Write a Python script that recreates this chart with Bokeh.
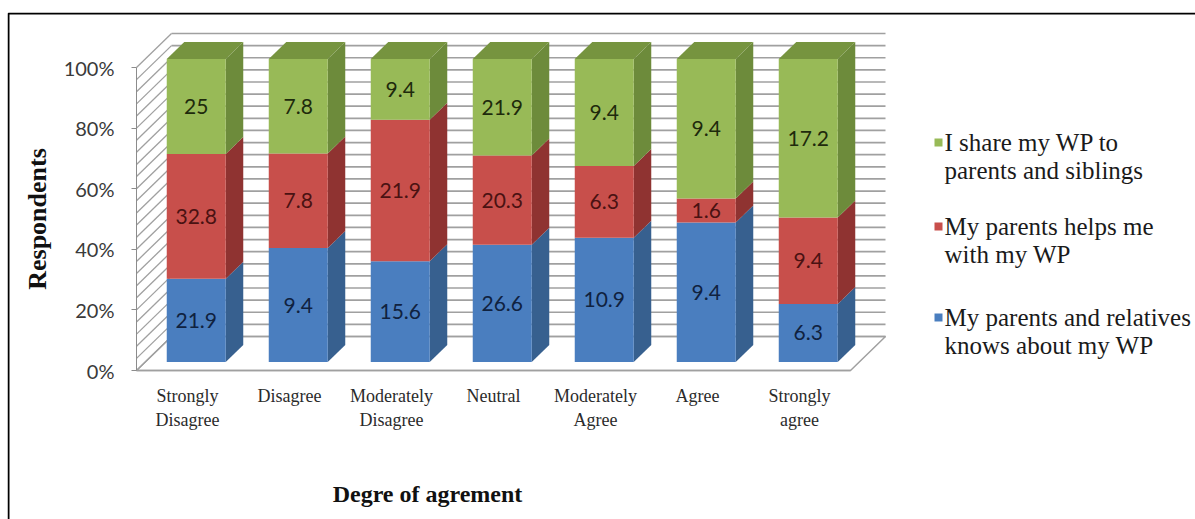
from bokeh.plotting import figure
from bokeh.models import Range1d, LinearAxis, FixedTicker, PrintfTickFormatter, Label
from bokeh.core.properties import value
from bokeh.embed import file_html
from bokeh.resources import INLINE

# ---- data -------------------------------------------------------------
categories = ["Strongly Disagree", "Disagree", "Moderately Disagree", "Neutral",
              "Moderately Agree", "Agree", "Strongly agree"]
category_labels = ["Strongly\nDisagree", "Disagree", "Moderately\nDisagree", "Neutral",
                   "Moderately\nAgree", "Agree", "Strongly\nagree"]
knows_about_wp = [21.9, 9.4, 15.6, 26.6, 10.9, 9.4, 6.3]
helps_with_wp = [32.8, 7.8, 21.9, 20.3, 6.3, 1.6, 9.4]
shares_wp = [25, 7.8, 9.4, 21.9, 9.4, 9.4, 17.2]
series_names = [["My parents and relatives", "knows about my WP"],
                ["My parents helps me", "with my WP"],
                ["I share my WP to", "parents and siblings"]]
y_ticks = [0, 20, 40, 60, 80, 100]
grid_steps = list(range(0, 101, 4))

# ---- styling ------------------------------------------------------------
front_colors = ["#4a7ebf", "#c84f4b", "#98ba57"]
side_colors = ["#37608f", "#8f3331", "#6d8b3b"]
top_colors = ["#3f6ca3", "#a8403d", "#76943f"]
label_colors = ["#10223f", "#4a1212", "#1e2a0c"]
grid_color = "#a0a0a0"
SERIF = "Liberation Serif"

# ---- screen layout (pixels) -------------------------------------------
PLOT_W, PLOT_H = 1195, 519
FRAME_LEFT, FRAME_TOP, FRAME_RIGHT, FRAME_BOTTOM = 7, 12, 1195, 519
CAT_ORIGIN_PX = 187      # screen x of the first category on the front plane
CAT_STEP_PX = 102        # distance between categories
ZERO_PX, FULL_PX = 370, 67
PX_PER_PCT = (ZERO_PX - FULL_PX) / 100
DEPTH_PX_X, DEPTH_PX_Y = 35, 34
BAR_PX = 59


def ux(px):
    return (px - CAT_ORIGIN_PX) / CAT_STEP_PX


def uy(px):
    return (ZERO_PX - px) / PX_PER_PCT


def dx(px):
    return px / CAT_STEP_PX


def dy(px):
    return px / PX_PER_PCT


n = len(categories)
WALL_L, WALL_R = -0.5, n - 0.5
DEP_X, DEP_Y = dx(DEPTH_PX_X), dy(DEPTH_PX_Y)
FRONT_F, BACK_F = 0.25, 0.75
fx, fy = DEP_X * FRONT_F, DEP_Y * FRONT_F
bx, by = DEP_X * BACK_F, DEP_Y * BACK_F
half_w = dx(BAR_PX) / 2

p = figure(width=PLOT_W, height=PLOT_H,
           x_range=Range1d(ux(FRAME_LEFT), ux(FRAME_RIGHT)),
           y_range=Range1d(uy(FRAME_BOTTOM), uy(FRAME_TOP)),
           x_axis_type=None, y_axis_type=None,
           output_backend="svg", toolbar_location=None,
           min_border_left=FRAME_LEFT, min_border_top=FRAME_TOP,
           min_border_right=PLOT_W - FRAME_RIGHT, min_border_bottom=0)
p.outline_line_color = None
p.background_fill_color = "white"
p.border_fill_color = "white"

# black frame along the left and top edges of the figure box
p.line(x=[ux(FRAME_LEFT + 1), ux(FRAME_LEFT + 1), ux(FRAME_RIGHT)],
       y=[uy(FRAME_BOTTOM), uy(FRAME_TOP + 1), uy(FRAME_TOP + 1)],
       line_color="black", line_width=2)

# ---- floor, side wall and back wall ----------------------------------
p.patch([WALL_L, WALL_R, WALL_R + DEP_X, WALL_L + DEP_X], [0, 0, DEP_Y, DEP_Y],
        fill_color="white", line_color=grid_color, line_width=1.5)
p.segment(x0=[WALL_L] * len(grid_steps), y0=grid_steps,
          x1=[WALL_L + DEP_X] * len(grid_steps), y1=[g + DEP_Y for g in grid_steps],
          line_color=grid_color, line_width=1.3)
p.segment(x0=[WALL_L + DEP_X] * len(grid_steps), y0=[g + DEP_Y for g in grid_steps],
          x1=[WALL_R + DEP_X] * len(grid_steps), y1=[g + DEP_Y for g in grid_steps],
          line_color=grid_color, line_width=1.7)

# ---- 100% stacked 3-D columns ----------------------------------------
series = [knows_about_wp, helps_with_wp, shares_wp]
totals = [sum(col) for col in zip(*series)]
shares = [[v / t * 100 for v, t in zip(s, totals)] for s in series]

fl, fr, fb, ft, fc = [], [], [], [], []
sxs, sys_, sc = [], [], []
txs, tys, tc = [], [], []
lx, ly, lt, lc = [], [], [], []
for i in range(n):
    base = 0.0
    for k, s in enumerate(shares):
        top = base + s[i]
        left, right = i + fx - half_w, i + fx + half_w
        fl.append(left)
        fr.append(right)
        fb.append(base + fy)
        ft.append(top + fy)
        fc.append(front_colors[k])
        sxs.append([right, i + bx + half_w, i + bx + half_w, right])
        sys_.append([base + fy, base + by, top + by, top + fy])
        sc.append(side_colors[k])
        if k == len(shares) - 1:
            txs.append([left, right, i + bx + half_w, i + bx - half_w])
            tys.append([top + fy, top + fy, top + by, top + by])
            tc.append(top_colors[k])
        lx.append(i + fx)
        ly.append((base + top) / 2 + fy)
        lt.append(f"{series[k][i]:g}")
        lc.append(label_colors[k])
        base = top

p.patches(sxs, sys_, fill_color=sc, line_color=None)
p.patches(txs, tys, fill_color=tc, line_color=None)
p.quad(left=fl, right=fr, bottom=fb, top=ft, fill_color=fc, line_color=None)
p.text(x=lx, y=ly, text=lt, text_color=lc, text_font=value("Lato"),
       text_font_size="21px", text_align="center", text_baseline="middle")

# ---- axes ---------------------------------------------------------------
yaxis = LinearAxis(fixed_location=WALL_L, bounds=(0, 100),
                   ticker=FixedTicker(ticks=y_ticks, minor_ticks=[]),
                   formatter=PrintfTickFormatter(format="%d%%"),
                   axis_label="Respondents")
yaxis.axis_line_color = "#8c8c8c"
yaxis.major_tick_line_color = "#8c8c8c"
yaxis.major_tick_in = 0
yaxis.major_tick_out = 5
yaxis.minor_tick_line_color = None
yaxis.major_label_standoff = 17
yaxis.major_label_text_font = "Lato"
yaxis.major_label_text_font_size = "20px"
yaxis.major_label_text_color = "#3a3a3a"
yaxis.axis_label_text_font = SERIF
yaxis.axis_label_text_font_style = "bold"
yaxis.axis_label_text_font_size = "26px"
yaxis.axis_label_text_color = "#111111"
yaxis.axis_label_standoff = 9
p.add_layout(yaxis, "left")

xaxis = LinearAxis(fixed_location=0, bounds=(WALL_L, WALL_R),
                   ticker=FixedTicker(ticks=list(range(n)), minor_ticks=[]),
                   major_label_overrides={i: lab for i, lab in enumerate(category_labels)})
xaxis.axis_line_color = grid_color
xaxis.axis_line_width = 1.5
xaxis.major_tick_line_color = None
xaxis.minor_tick_line_color = None
xaxis.major_label_standoff = 9
xaxis.major_label_text_font = SERIF
xaxis.major_label_text_font_size = "18px"
xaxis.major_label_text_color = "#2b2b2b"
p.add_layout(xaxis, "below")

p.add_layout(Label(x=ux(427), y=uy(493), text="Degre of agrement",
                   text_font=SERIF, text_font_style="bold", text_font_size="24px",
                   text_color="#111111", text_align="center", text_baseline="middle"))

# ---- legend: colour keys and one label per text line -------------------
legend_rows_px = [142, 226, 317]
LEGEND_LINE_PX = 28
legend_order = [2, 1, 0]
p.scatter(x=[ux(938)] * 3, y=[uy(r) for r in legend_rows_px], marker="square", size=8,
          fill_color=[front_colors[k] for k in legend_order], line_color=None)
for r, k in zip(legend_rows_px, legend_order):
    for j, line in enumerate(series_names[k]):
        p.add_layout(Label(x=ux(944), y=uy(r + j * LEGEND_LINE_PX), text=line,
                           text_font=SERIF, text_font_size="25px",
                           text_color="#1a1a1a", text_align="left",
                           text_baseline="middle"))

open("out.html", "w").write(file_html(p, INLINE))
